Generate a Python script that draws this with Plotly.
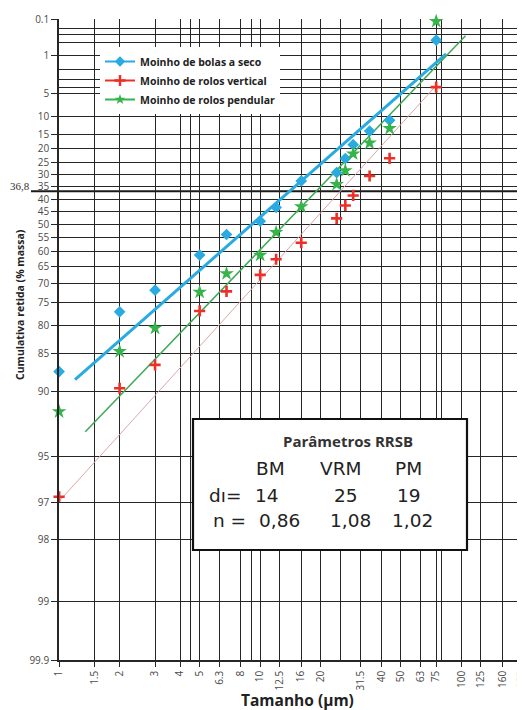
import numpy as np
import plotly.graph_objects as go

# ---------------- data ----------------
sizes_um = [1, 2, 3, 5, 6.8, 10, 12, 16, 24, 26.5, 29, 35, 44, 75]
ball_mill_dry = [87.6, 77.2, 71.9, 61.3, 54.0, 48.9, 43.4, 32.5, 29.1, 23.6, 18.5, 14.0, 10.9, 0.43]
vertical_roller_mill = [96.8, 89.6, 86.7, 77.0, 72.2, 67.6, 62.7, 57.0, 47.8, 42.6, 38.5, 30.5, 23.5, 4.0]
pendular_roller_mill = [91.9, 84.7, 80.6, 72.4, 67.2, 61.3, 53.2, 43.1, 33.9, 28.3, 21.8, 17.9, 13.2, 0.12]

series_names = ["Moinho de bolas a seco", "Moinho de rolos vertical", "Moinho de rolos pendular"]

# RRSB parameters (table in the chart)
param_labels = ["BM", "VRM", "PM"]
d_prime = [14, 25, 19]
n_exponent = [0.86, 1.08, 1.02]
fit_x_start = [1.2, 1.0, 1.35]
fit_x_end = [84, 75, 105]

x_tick_values = [1, 1.5, 2, 3, 4, 5, 6.3, 8, 10, 12.5, 16, 20, 31.5, 40, 50, 63, 75, 100, 125, 160, 200]
x_minor_values = [4.5, 9, 25, 80]
y_tick_percent = [0.1, 1, 5, 10, 15, 20, 25, 30, 35, 40, 45, 50, 55, 60, 65, 70, 75, 80, 85, 90, 95, 97, 98, 99]
y_minor_percent = [0.2, 0.3, 0.5, 2, 3, 4]
y_bottom_percent = 99.48   # lower edge of the printed RRSB paper (labelled 99.9)
y_bottom_label = "99.9"
char_percent = 36.8

# ---------------- styles ----------------
marker_colors = ["#29abe2", "#ec3028", "#36b34a"]
marker_symbols = ["diamond", "cross-thin", "star"]
marker_sizes = [9, 8, 11]
line_colors = ["#29abe2", "#d9a7a7", "#3fa857"]
line_widths = [3, 1, 1.5]
GRID = "#262626"
FONT = "Open Sans"


def rrsb(r):
    r = np.asarray(r, dtype=float)
    return np.log(-np.log(r / 100.0))


# page body has an 8px default margin: the figure is drawn from (8, 8)
OFF = 8
W, H = 525 - OFF, 710 - OFF
L, R, T, B = 59 - OFF, 3, 19 - OFF, 50
PW, PH = W - L - R, H - T - B


def px_x(p):
    return (p - OFF - L) / PW


def px_y(p):
    return 1 - (p - OFF - T) / PH


fig = go.Figure()

series_values = [ball_mill_dry, vertical_roller_mill, pendular_roller_mill]

# fitted RRSB lines
for i in range(3):
    xs = np.geomspace(fit_x_start[i], fit_x_end[i], 60)
    rs = 100 * np.exp(-(xs / d_prime[i]) ** n_exponent[i])
    fig.add_trace(go.Scatter(x=xs, y=rrsb(rs), mode="lines",
                             line=dict(color=line_colors[i], width=line_widths[i]),
                             showlegend=False, hoverinfo="skip"))

# measured points
for i in range(3):
    mk = dict(color=marker_colors[i], symbol=marker_symbols[i], size=marker_sizes[i],
              line=dict(width=0))
    if marker_symbols[i] == "cross-thin":
        mk["line"] = dict(width=2.6, color=marker_colors[i])
    fig.add_trace(go.Scatter(x=sizes_um, y=rrsb(series_values[i]), mode="markers",
                             marker=mk, name=series_names[i], showlegend=False,
                             cliponaxis=False))

# legend entries (line + marker)
for i in range(3):
    mk = dict(color=marker_colors[i], symbol=marker_symbols[i], size=8, line=dict(width=0))
    if marker_symbols[i] == "cross-thin":
        mk["line"] = dict(width=2.4, color=marker_colors[i])
    fig.add_trace(go.Scatter(x=[None], y=[None], mode="lines+markers",
                             line=dict(color=marker_colors[i], width=2),
                             marker=mk, name=series_names[i]))

y_tickvals = list(rrsb(y_tick_percent)) + [float(rrsb(y_bottom_percent))]
y_ticktext = [("%g" % v) for v in y_tick_percent] + [y_bottom_label]

fig.update_xaxes(
    type="log", range=[-0.0005, np.log10(200) + 0.0008], automargin=False,
    tickmode="array", tickvals=x_tick_values, ticktext=[("%g" % v) for v in x_tick_values],
    tickangle=-90, ticks="outside", ticklen=5, tickcolor=GRID,
    ticklabeloverflow="allow",
    tickfont=dict(family=FONT, size=10, color="#4a4a4a"),
    showgrid=True, gridcolor=GRID, gridwidth=1.4,
    minor=dict(tickmode="array", tickvals=x_minor_values, showgrid=True,
               gridcolor=GRID, gridwidth=1.4, ticks=""),
    showline=True, linecolor=GRID, linewidth=1.6, zeroline=False,
)
fig.update_yaxes(
    range=[float(rrsb(y_bottom_percent)), float(rrsb(0.1))], automargin=False,
    tickmode="array", tickvals=y_tickvals, ticktext=y_ticktext,
    ticks="outside", ticklen=6, tickcolor=GRID,
    tickfont=dict(family=FONT, size=10, color="#4a4a4a"),
    showgrid=True, gridcolor=GRID, gridwidth=1.4,
    minor=dict(tickmode="array", tickvals=list(rrsb(y_minor_percent)), showgrid=True,
               gridcolor=GRID, gridwidth=1.4, ticks=""),
    showline=True, linecolor=GRID, linewidth=1.6, zeroline=False,
)

shapes = [
    # 36.8 % characteristic line
    dict(type="line", xref="paper", yref="y", x0=px_x(31), x1=px_x(525),
         y0=float(rrsb(char_percent)), y1=float(rrsb(char_percent)),
         line=dict(color="#1a1a1a", width=2), layer="below"),
    # parameter box
    dict(type="rect", xref="paper", yref="paper", x0=px_x(193), x1=px_x(467),
         y0=px_y(550), y1=px_y(419), line=dict(color="#111", width=2.2),
         fillcolor="white", layer="above"),
]

TXT = "#222"
annotations = [
    dict(text="36,8", x=px_x(32), y=float(rrsb(char_percent)), xref="paper", yref="y",
         xanchor="right", yanchor="middle", yshift=5, showarrow=False,
         font=dict(family="Liberation Serif", size=11, color="#333")),
    dict(text="<b>Tamanho (µm)</b>", x=px_x(297), y=px_y(700), xref="paper", yref="paper",
         xanchor="center", yanchor="middle", showarrow=False,
         font=dict(family=FONT, size=15.5, color=TXT)),
    dict(text="<b>Cumulativa retida (% massa)</b>", x=px_x(20), y=px_y(305), xref="paper",
         yref="paper", xanchor="center", yanchor="middle", textangle=-90, showarrow=False,
         font=dict(family=FONT, size=10.5, color=TXT)),
    dict(text="<b>Parâmetros RRSB</b>", x=px_x(348), y=px_y(441), xref="paper", yref="paper",
         xanchor="center", yanchor="middle", showarrow=False,
         font=dict(family=FONT, size=15, color="#333")),
]

BOXFONT = dict(family="DejaVu Sans", size=18.5, color=TXT)
header_cx = [270, 340, 408]
d_cx = [267, 346, 409]
n_cx = [279, 350, 412]
row_y = [468, 495, 520]
for j in range(3):
    annotations.append(dict(text=param_labels[j], x=px_x(header_cx[j]), y=px_y(row_y[0]),
                            xref="paper", yref="paper", xanchor="center", yanchor="middle",
                            showarrow=False, font=BOXFONT))
    annotations.append(dict(text="%g" % d_prime[j], x=px_x(d_cx[j]), y=px_y(row_y[1]),
                            xref="paper", yref="paper", xanchor="center", yanchor="middle",
                            showarrow=False, font=BOXFONT))
    annotations.append(dict(text=("%.2f" % n_exponent[j]).replace(".", ","), x=px_x(n_cx[j]),
                            y=px_y(row_y[2]), xref="paper", yref="paper", xanchor="center",
                            yanchor="middle", showarrow=False, font=BOXFONT))
annotations.append(dict(text="dı=", x=px_x(207), y=px_y(row_y[1]), xref="paper", yref="paper",
                        xanchor="left", yanchor="middle", showarrow=False, font=BOXFONT))
annotations.append(dict(text="n =", x=px_x(211), y=px_y(row_y[2]), xref="paper", yref="paper",
                        xanchor="left", yanchor="middle", showarrow=False, font=BOXFONT))

fig.update_layout(
    width=W, height=H,
    margin=dict(l=L, r=R, t=T, b=B, autoexpand=False),
    paper_bgcolor="white", plot_bgcolor="white",
    shapes=shapes, annotations=annotations,
    legend=dict(x=px_x(100), y=px_y(47), xanchor="left", yanchor="top",
                bgcolor="white", borderwidth=0,
                font=dict(family=FONT, size=10.5, color=TXT, weight="bold"),
                itemwidth=30, tracegroupgap=0),
    showlegend=True,
)

fig.write_html("out.html")
